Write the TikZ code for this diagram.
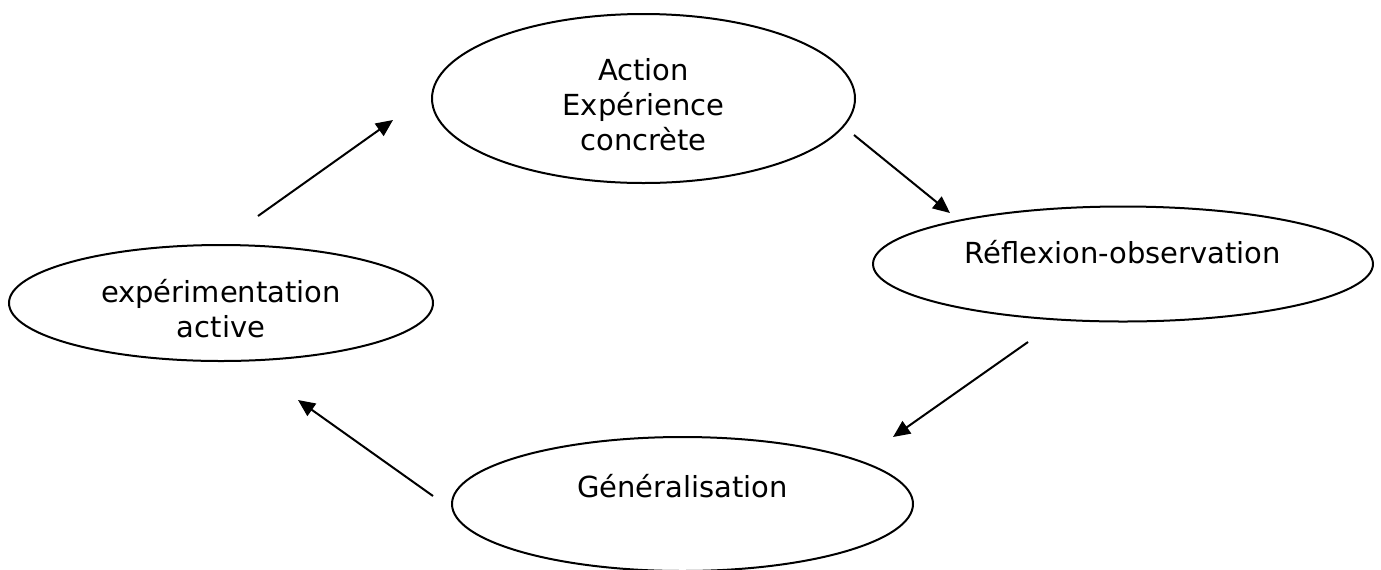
\documentclass[tikz,border=0pt]{standalone}
\usepackage{fontspec}
\setmainfont{DejaVu Sans}
\usetikzlibrary{shapes.geometric,arrows.meta}

\tikzset{
  stage/.style={draw, ellipse, line width=1pt, inner sep=0pt},
  stagetext/.style={align=center, font=\fontsize{14.5}{17.5}\selectfont},
  cyc/.style={-{Triangle[length=8.5pt,width=7.5pt]}, line width=1pt}
}

\begin{document}
\begin{tikzpicture}[x=0.5pt,y=-0.5pt]
\useasboundingbox (0,0) rectangle (1381,569);
\clip (0,0) rectangle (1381,569);

% the four stages
\node[stage, minimum width=211.5pt, minimum height=84.5pt,
  label={[stagetext, yshift=-3pt]center:Action\\Expérience\\concrète}] (action) at (643.5,98.5) {};
\node[stage, minimum width=250pt, minimum height=57.5pt,
  label={[stagetext, yshift=6pt]center:Réflexion-observation}] (reflexion) at (1123,264) {};
\node[stage, minimum width=230.5pt, minimum height=67pt,
  label={[stagetext, yshift=9pt]center:Généralisation}] (general) at (682.5,504) {};
\node[stage, minimum width=212pt, minimum height=58pt,
  label={[stagetext, yshift=-3pt]center:expérimentation\\active}] (experim) at (221,303) {};

% free arrow ends
\coordinate (a1) at (258,216);  \coordinate (a2) at (393,120);
\coordinate (b1) at (854,135);  \coordinate (b2) at (950,213);
\coordinate (c1) at (1028,342); \coordinate (c2) at (893,437);
\coordinate (d1) at (433,496);  \coordinate (d2) at (298,400);

\draw[cyc] (a1) -- (a2);
\draw[cyc] (b1) -- (b2);
\draw[cyc] (c1) -- (c2);
\draw[cyc] (d1) -- (d2);
\end{tikzpicture}
\end{document}
